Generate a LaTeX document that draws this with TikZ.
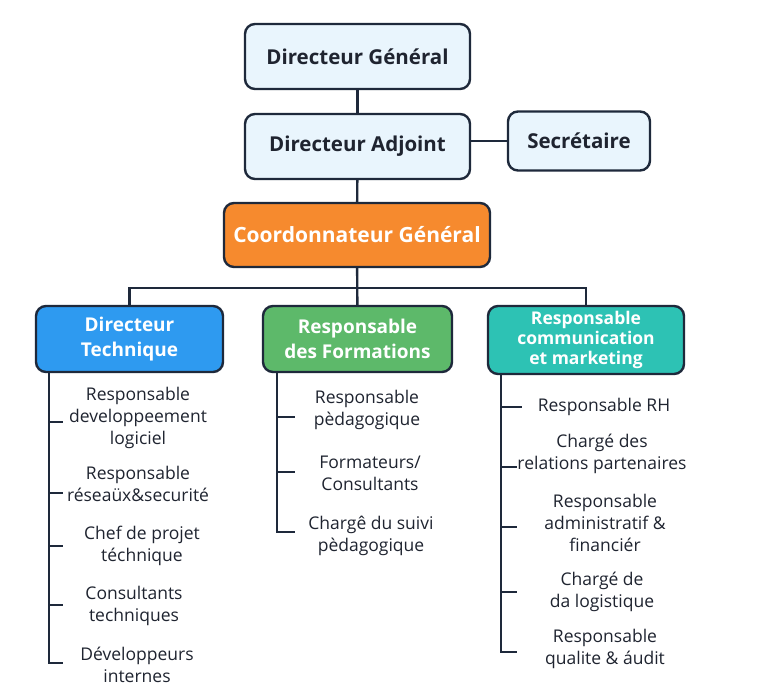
\documentclass[tikz,border=0pt]{standalone}
\usepackage{fontspec}
\setmainfont{Open Sans}
\definecolor{linecol}{HTML}{1E293B}
\definecolor{textcol}{HTML}{1F2430}
\definecolor{lightfill}{HTML}{E9F5FD}
\definecolor{coordorange}{HTML}{F68A2E}
\definecolor{techblue}{HTML}{2E9AF0}
\definecolor{formgreen}{HTML}{5DB96A}
\definecolor{comteal}{HTML}{2DC2B4}
\begin{document}
\begin{tikzpicture}[x=1pt,y=-1pt,
    link/.style={draw=linecol,line width=2.4pt},
    topbox/.style={draw=linecol,line width=2.4pt,rounded corners=10pt,fill=lightfill,text=textcol,
      font=\bfseries\fontsize{20.5}{24}\selectfont,minimum width=225pt,minimum height=65pt},
    headbox/.style={draw=linecol,line width=2.4pt,rounded corners=10pt,text=white,align=center,
      font=\bfseries\fontsize{19}{25}\selectfont,inner sep=2pt},
    item/.style={text=textcol,align=center,font=\fontsize{17.5}{22}\selectfont}]
    \fill[white] (0,0) rectangle (763,692);
    \useasboundingbox (0,0) rectangle (763,692);
    % direction
    \node[topbox] (dg) at (357.5,56.5) {Directeur Général};
    \node[topbox] (da) at (357.5,146.5) {Directeur Adjoint};
    \node[topbox,minimum width=142pt,minimum height=59pt] (sec) at (579,141) {Secrétaire};
    \node[headbox,fill=coordorange,minimum width=266pt,minimum height=64pt,font=\bfseries\fontsize{21}{24}\selectfont] (cg) at (357,235) {Coordonnateur Général};
    \draw[link] (dg) -- (da); \draw[link] (da) -- (cg); \draw[link] (da.east |- sec.west) -- (sec.west);
    % services
    \node[headbox,fill=techblue,minimum width=187pt,minimum height=66pt] (dt) at (129.5,339) {Directeur\\Technique};
    \node[headbox,fill=formgreen,minimum width=189pt,minimum height=66pt] (rf) at (357.5,339) {Responsable\\des Formations};
    \node[headbox,fill=comteal,minimum width=196pt,minimum height=68pt,font=\bfseries\fontsize{17.5}{20}\selectfont] (rcm) at (586,340) {Responsable\\communication\\et marketing};
    \coordinate (bus) at (357,288);
    \draw[link] (cg) -- (rf);
    \draw[link] (dt.north) |- (bus) -| (rcm.north);
    % Directeur Technique
    \node[item] (dt1) at (138,418) {Responsable\\developpeement\\logiciel};
    \node[item] (dt2) at (138,484) {Responsable\\réseaüx\&securité};
    \node[item] (dt3) at (142,546) {Chef de projet\\téchnique};
    \node[item] (dt4) at (134,606) {Consultants\\techniques};
    \node[item] (dt5) at (137,665) {Développeurs\\internes};
    \coordinate (dtl) at (49,372);
    \foreach \y [count=\i] in {422,493,546,605,663} \coordinate (dtt\i) at (63,\y);
    \draw[link] (dtl) |- (dtt5);
    \foreach \i in {1,...,4} \draw[link] (dtl |- dtt\i) -- (dtt\i);
    % Responsable des Formations
    \node[item] (rf1) at (367,410) {Responsable\\pèdagogique};
    \node[item] (rf2) at (370,473) {Formateurs/\\Consultants};
    \node[item] (rf3) at (371,536) {Chargê du suivi\\pèdagogique};
    \coordinate (rfl) at (277,372);
    \foreach \y [count=\i] in {417,472,532} \coordinate (rft\i) at (295,\y);
    \draw[link] (rfl) |- (rft3);
    \foreach \i in {1,2} \draw[link] (rfl |- rft\i) -- (rft\i);
    % Responsable communication et marketing
    \node[item] (rc1) at (604,407) {Responsable RH};
    \node[item] (rc2) at (602,454) {Chargé des\\relations partenaires};
    \node[item] (rc3) at (605,523) {Responsable\\administratif \&\\financiér};
    \node[item] (rc4) at (602,592) {Chargé de\\da logistique};
    \node[item] (rc5) at (605,649) {Responsable\\qualite \& áudit};
    \coordinate (rcl) at (501,374);
    \foreach \y/\x [count=\i] in {407/522,467/517,527/517,592/517,652/517} \coordinate (rct\i) at (\x,\y);
    \draw[link] (rcl) |- (rct5);
    \foreach \i in {1,...,4} \draw[link] (rcl |- rct\i) -- (rct\i);
\end{tikzpicture}
\end{document}
